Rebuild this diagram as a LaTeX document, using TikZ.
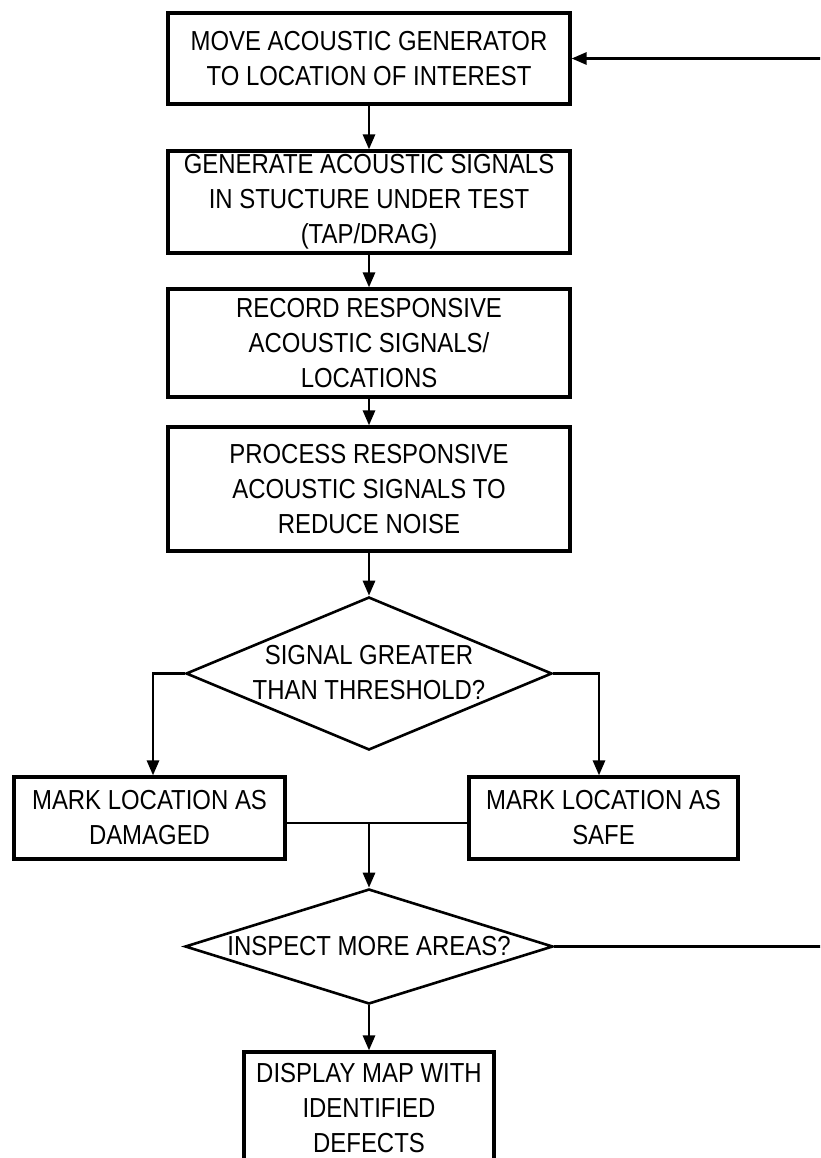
\documentclass[tikz,border=0pt]{standalone}
\usepackage{fontspec}
\setmainfont{Liberation Sans}[FakeStretch=0.87]
\usetikzlibrary{shapes.geometric,arrows.meta}

\begin{document}
\begin{tikzpicture}[x=1pt,y=-1pt,
  txt/.style={font=\fontsize{27.5}{35}\selectfont},
  box/.style={draw, line width=3.2pt, rectangle, inner sep=0pt, align=center, txt},
  decision/.style={draw, line width=2.6pt, diamond, inner sep=0pt},
  dtext/.style={txt, align=center, inner sep=0pt},
  conn/.style={line width=2.8pt},
  arr/.style={conn, -{Triangle[length=15pt,width=12pt]}}
]
\useasboundingbox (0,0) rectangle (820,1158);
\clip (0,0) rectangle (820,1158);

% process boxes
\node[box, minimum width=402, minimum height=91]  (b1) at (369,58.5)
  {MOVE ACOUSTIC GENERATOR\\TO LOCATION OF INTEREST};
\node[box, minimum width=402, minimum height=102] (b2) at (369,202)
  {GENERATE ACOUSTIC SIGNALS\\IN STUCTURE UNDER TEST\\(TAP/DRAG)};
\node[box, minimum width=402, minimum height=108] (b3) at (369,343)
  {RECORD RESPONSIVE\\ACOUSTIC SIGNALS/\\LOCATIONS};
\node[box, minimum width=402, minimum height=124] (b4) at (369,489)
  {PROCESS RESPONSIVE\\ACOUSTIC SIGNALS TO\\REDUCE NOISE};

% first decision
\node[decision, minimum width=366, minimum height=153] (d1) at (369,673.5) {};
\node[dtext] (d1t) at (369,673) {SIGNAL GREATER\\THAN THRESHOLD?};

% outcome boxes
\node[box, minimum width=271, minimum height=82] (dam)  at (149.5,818)
  {MARK LOCATION AS\\DAMAGED};
\node[box, minimum width=269, minimum height=82] (safe) at (603.5,818)
  {MARK LOCATION AS\\SAFE};

% second decision
\node[decision, minimum width=368, minimum height=115] (d2) at (369,946.5) {};
\node[dtext] (d2t) at (369,946) {INSPECT MORE AREAS?};

% final box, running past the lower edge
\node[box, minimum width=250, minimum height=112] (disp) at (369,1108)
  {DISPLAY MAP WITH\\IDENTIFIED\\DEFECTS};

% helper points
\coordinate (j)  at (369,823);
\coordinate (rt) at (832,946.5);

% main flow
\draw[arr] (b1) -- (b2);
\draw[arr] (b2) -- (b3);
\draw[arr] (b3) -- (b4);
\draw[arr] (b4) -- (d1.north);

% branches of the first decision
\draw[arr] (d1.west) -| ([xshift=3.5pt]dam.north);
\draw[arr] (d1.east) -| ([xshift=-4.5pt]safe.north);

% merge of the two outcomes
\draw[conn] ([yshift=-5pt]dam.east) -- ([yshift=-5pt]safe.west);
\draw[arr] (j) -- (d2.north);

% second decision
\draw[arr] (d2.south) -- (disp.north);
\draw[arr] (d2.east) -- (d2.east -| rt) |- (b1.east);
\end{tikzpicture}
\end{document}
